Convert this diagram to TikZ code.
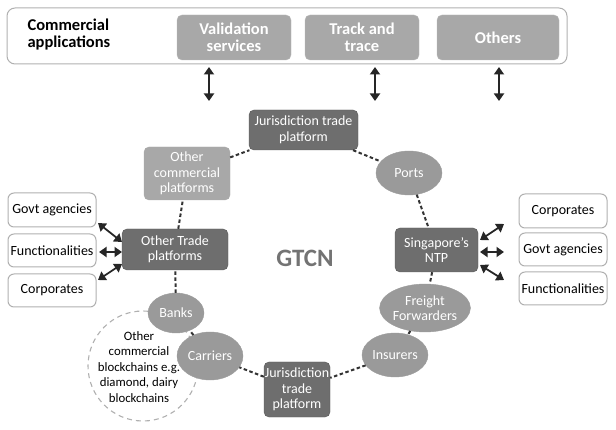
\documentclass[tikz,border=0pt]{standalone}
\usepackage{fontspec}
\setmainfont{Carlito}
\usetikzlibrary{shapes.geometric,arrows.meta}
\definecolor{lightg}{HTML}{A8A8A8}
\definecolor{midg}{HTML}{9A9A9A}
\definecolor{darkg}{HTML}{6E6E6E}
\definecolor{bordg}{HTML}{B0B0B0}
\begin{document}
\begin{tikzpicture}[x=1pt,y=-1pt,
  font=\fontsize{14}{15.5}\selectfont,
  appbox/.style={rectangle,rounded corners=5pt,fill=lightg,draw=lightg!80!white,text=white,align=center,font=\fontsize{16.5}{17.5}\selectfont\bfseries,inner sep=0pt},
  darkbox/.style={rectangle,rounded corners=5pt,fill=darkg,draw=darkg!80!black,text=white,align=center,inner sep=0pt},
  lightbox/.style={rectangle,rounded corners=5pt,fill=lightg,draw=lightg,text=white,align=center,inner sep=0pt},
  oval/.style={ellipse,fill=midg,draw=midg,text=white,align=center,inner sep=0pt},
  whitebox/.style={rectangle,rounded corners=6pt,fill=white,draw=bordg,line width=1pt,align=center,inner sep=0pt,minimum width=88,minimum height=33},
  dashlink/.style={draw=black!80,line width=2pt,dash pattern=on 3.5pt off 2.5pt},
  dblarrow/.style={draw=black!85,line width=1.8pt,{Triangle[length=7.5pt,width=10pt]}-{Triangle[length=7.5pt,width=10pt]}}]
\useasboundingbox (0,0) rectangle (616,430);
% top panel
\node[rectangle,rounded corners=8pt,draw=bordg,line width=1pt,minimum width=560,minimum height=56,inner sep=0pt] (panel) at (287,36) {};
\node[anchor=west,align=left,font=\fontsize{16.5}{17.5}\selectfont\bfseries] (capps) at (24,34.5) {Commercial\\applications};
\node[appbox,minimum width=114,minimum height=45] (val) at (234,37.5) {Validation\\services};
\node[appbox,minimum width=114,minimum height=45] (track) at (362,37.5) {Track and\\trace};
\node[appbox,minimum width=122,minimum height=45] (others) at (498,37.5) {Others};
\coordinate (a1t) at (209,67); \coordinate (a1b) at (209,101);
\coordinate (a2t) at (375,67); \coordinate (a2b) at (375,101);
\coordinate (a3t) at (499,67); \coordinate (a3b) at (499,101);
\draw[dblarrow] (a1t) -- (a1b);
\draw[dblarrow] (a2t) -- (a2b);
\draw[dblarrow] (a3t) -- (a3b);
% ring nodes
\node[darkbox,minimum width=109,minimum height=40] (jtop) at (303.5,130) {Jurisdiction trade\\platform};
\node[lightbox,minimum width=86,minimum height=53] (ocp) at (187,173.5) {Other\\commercial\\platforms};
\node[oval,minimum width=66,minimum height=44] (ports) at (409,173) {Ports};
\node[darkbox,minimum width=106,minimum height=41] (otp) at (175,249.5) {Other Trade\\platforms};
\node[darkbox,minimum width=83,minimum height=44] (ntp) at (436.5,250) {Singapore's\\NTP};
\node[text=black!55,font=\fontsize{25}{27}\selectfont\bfseries] (gtcn) at (305,258) {GTCN};
\node[oval,minimum width=78,minimum height=48] (ff) at (425,308) {Freight\\Forwarders};
\node[oval,minimum width=66,minimum height=44] (ins) at (395,355) {Insurers};
\node[darkbox,minimum width=66,minimum height=55] (jbot) at (297,389.5) {Jurisdiction\\trade\\platform};
\node[circle,draw=bordg,line width=1.1pt,dash pattern=on 5pt off 4pt,minimum size=110,align=center,inner sep=0pt] (ocb) at (143,366) {};
\node[oval,minimum width=56,minimum height=40] (banks) at (176,313) {Banks};
\node[oval,minimum width=66,minimum height=48] (carr) at (210,356) {Carriers};
\node[align=center,font=\fontsize{12.8}{15.5}\selectfont] (ocbt) at (139,367) {Other\\commercial\\blockchains e.g.\\diamond, dairy\\blockchains};
% side boxes
\node[whitebox,minimum height=34] (lgov) at (52,210) {Govt agencies};
\node[whitebox] (lfun) at (52,250.5) {Functionalities};
\node[whitebox] (lcor) at (52,290.5) {Corporates};
\node[whitebox,minimum height=34] (rcor) at (563,211) {Corporates};
\node[whitebox] (rgov) at (563,249.5) {Govt agencies};
\node[whitebox] (rfun) at (563,288.5) {Functionalities};
% ring links
\draw[dashlink] (jtop) -- (ports);
\draw[dashlink] (ports) -- (ntp);
\draw[dashlink] (ntp) -- (ff);
\draw[dashlink] (ff) -- (ins);
\draw[dashlink] (ins) -- (jbot);
\draw[dashlink] (jbot) -- (carr);
\draw[dashlink] (carr) -- (banks);
\draw[dashlink] (banks) -- (otp);
\draw[dashlink] (otp) -- (ocp);
\draw[dashlink] (ocp) -- (jtop);
% side arrows
\coordinate (l1s) at (98,223); \coordinate (l1) at (122,242);
\coordinate (l2s) at (99,252); \coordinate (l2) at (122,252);
\coordinate (l3s) at (98,280); \coordinate (l3) at (122,264);
\draw[dblarrow] (l1s) -- (l1);
\draw[dblarrow] (l2s) -- (l2);
\draw[dblarrow] (l3s) -- (l3);
\coordinate (r1) at (480,240); \coordinate (r2) at (480,252); \coordinate (r3) at (480,265);
\coordinate (r1e) at (504,224); \coordinate (r2e) at (504,252); \coordinate (r3e) at (504,280);
\draw[dblarrow] (r1) -- (r1e);
\draw[dblarrow] (r2) -- (r2e);
\draw[dblarrow] (r3) -- (r3e);
\end{tikzpicture}
\end{document}
